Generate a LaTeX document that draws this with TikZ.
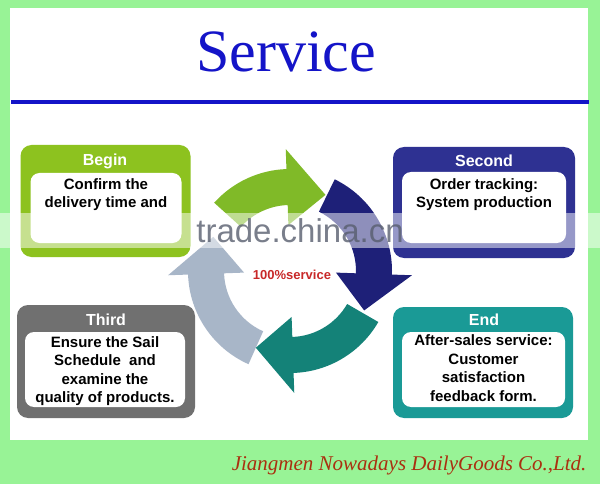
\documentclass[tikz,border=0pt]{standalone}
\usepackage{fontspec}
\setmainfont{Liberation Serif}
\setsansfont{Liberation Sans}
\usetikzlibrary{positioning}

\definecolor{bggreen}{RGB}{152,243,150}
\definecolor{begingreen}{RGB}{141,194,31}
\definecolor{secondblue}{RGB}{46,49,146}
\definecolor{thirdgray}{RGB}{112,112,112}
\definecolor{endteal}{RGB}{26,154,150}
\definecolor{titleblue}{RGB}{20,20,200}
\definecolor{footred}{RGB}{170,48,16}
\definecolor{servicered}{RGB}{200,40,40}
\definecolor{markgray}{RGB}{88,94,110}
\definecolor{cyclegreen}{RGB}{128,186,40}
\definecolor{cyclenavy}{RGB}{30,32,120}
\definecolor{cycleteal}{RGB}{20,130,120}
\definecolor{cyclegray}{RGB}{168,182,200}

\tikzset{
	stagebox/.style = {fill = #1, rounded corners = 11pt, inner sep = 0pt},
	notebox/.style = {fill = white, rounded corners = 9pt, inner sep = 0pt},
	stagetitle/.style = {text = white, anchor = base,
						 font = \sffamily\bfseries\fontsize{16}{16}\selectfont},
	notetext/.style = {align = center,
					   font = \sffamily\bfseries\fontsize{15}{18.5}\selectfont}
}

\begin{document}
\begin{tikzpicture}[x = 1pt, y = -1pt]

	\useasboundingbox (0,0) rectangle (600,484);
	\fill[bggreen] (0,0) rectangle (600,484);
	\fill[white] (10,8) rectangle (588,440);

	% heading
	\draw (286,72) node[anchor = base, text = titleblue,
					   font = \fontsize{60}{60}\selectfont] (title) {Service};
	\draw[titleblue, line width = 3.5pt] (11,102) -- (589,102);

	% the four stages
	\draw (105.5,201) node[stagebox = begingreen, minimum width = 170pt,
						   minimum height = 112pt] (begin) {};
	\draw (106,208) node[notebox, minimum width = 151pt,
						 minimum height = 70pt] (beginnote) {};
	\draw (105,166) node[stagetitle] (begintitle) {Begin};
	\draw (106,194.5) node[notetext] (begintext) {Confirm the\\delivery time and};

	\draw (484,202.5) node[stagebox = secondblue, minimum width = 182pt,
						   minimum height = 111pt] (second) {};
	\draw (484,207.5) node[notebox, minimum width = 164pt,
						   minimum height = 71pt] (secondnote) {};
	\draw (484,166.5) node[stagetitle] (secondtitle) {Second};
	\draw (484,194.5) node[notetext] (secondtext) {Order tracking:\\System production};

	\draw (106,361.5) node[stagebox = thirdgray, minimum width = 178pt,
						   minimum height = 113pt] (third) {};
	\draw (105,369.5) node[notebox, minimum width = 160pt,
						   minimum height = 75pt] (thirdnote) {};
	\draw (106,325) node[stagetitle] (thirdtitle) {Third};
	\draw (105,371) node[notetext] (thirdtext)
		{Ensure the Sail\\Schedule~ and\\examine the\\quality of products.};

	\draw (483,362.5) node[stagebox = endteal, minimum width = 180pt,
						   minimum height = 111pt] (end) {};
	\draw (483.5,369.5) node[notebox, minimum width = 163pt,
							 minimum height = 75pt] (endnote) {};
	\draw (484,325) node[stagetitle] (endtitle) {End};
	\draw (483.5,368) node[notetext] (endtext)
		{After-sales service:\\Customer\\satisfaction\\feedback form.};

	% cycle of arrows
	\begin{scope}[shift = {(290,271)}]
		\foreach \col/\ta/\ba/\ti in {cyclegray/114/178/204,
									 cycleteal/30/88/114,
									 cyclenavy/296/362/388,
									 cyclegreen/222/268/295}
			\fill[\col] (\ta:102) arc[start angle = \ta, end angle = \ba, radius = 102]
				-- (\ba:122) -- (\ti:84) -- (\ba:46) -- (\ba:66)
				arc[start angle = \ba, end angle = \ta, radius = 66] -- cycle;
	\end{scope}
	\draw (292,275) node[text = servicered,
						 font = \sffamily\bfseries\fontsize{13}{13}\selectfont] (service)
		{100\%service};

	% watermark band
	\fill[white, opacity = 0.5] (0,213) rectangle (600,248);
	\draw (300,231) node[text = markgray, opacity = 0.8,
						 font = \sffamily\fontsize{33}{33}\selectfont] (mark) {trade.china.cn};

	% company
	\draw (590,470) node[anchor = base east, text = footred,
						 font = \itshape\fontsize{21}{21}\selectfont] (company)
		{Jiangmen Nowadays DailyGoods Co.,Ltd.};
\end{tikzpicture}
\end{document}
